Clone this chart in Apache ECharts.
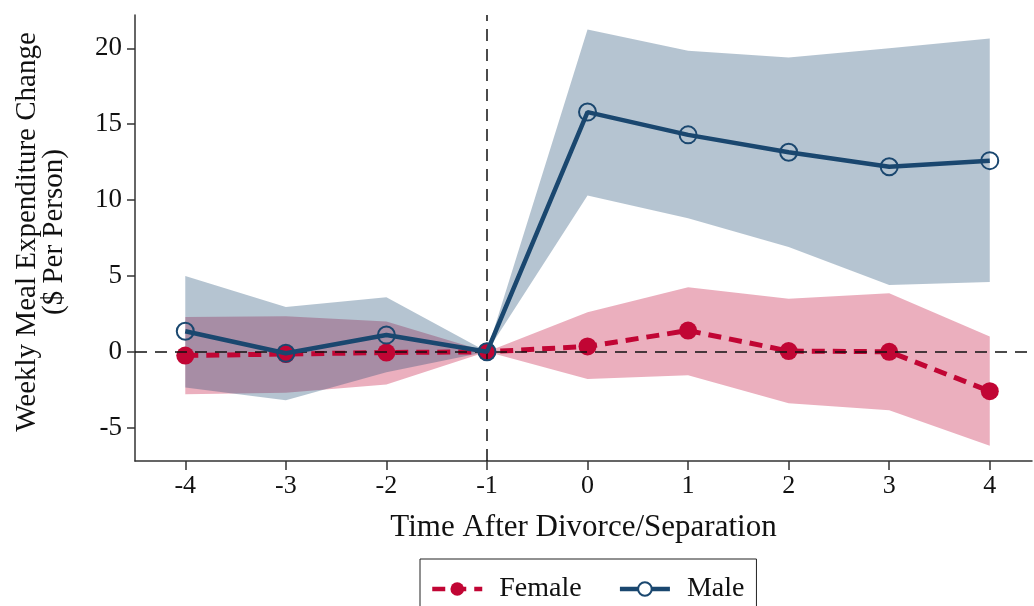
<!DOCTYPE html>
<html><head><meta charset="utf-8">
<script src="https://cdn.jsdelivr.net/npm/echarts@6/dist/echarts.min.js"></script>
<style>html,body{margin:0;padding:0;background:#fff}#c{width:1034px;height:606px}</style>
</head><body><div id="c"></div>
<script>
const periods = [-4, -3, -2, -1, 0, 1, 2, 3, 4];
const xTicks = [-4, -3, -2, -1, 0, 1, 2, 3, 4];
const yTicks = [-5, 0, 5, 10, 15, 20];
const femaleMean  = [-0.25, -0.15, -0.05, 0, 0.35, 1.4, 0.05, 0.0, -2.6];
const femaleLower = [-2.8, -2.7, -2.15, 0, -1.8, -1.55, -3.4, -3.85, -6.2];
const femaleUpper = [2.3, 2.35, 2.0, 0, 2.6, 4.25, 3.5, 3.85, 1.0];
const maleMean  = [1.35, -0.1, 1.1, 0, 15.8, 14.3, 13.15, 12.2, 12.6];
const maleLower = [-2.35, -3.2, -1.35, 0, 10.3, 8.8, 6.9, 4.4, 4.6];
const maleUpper = [5.0, 2.95, 3.6, 0, 21.25, 19.85, 19.4, 20.0, 20.65];

const FONT = 'Liberation Serif';
const NAVY = '#1a476f', RED = '#c10534';

function band(lower, upper, color, z) {
  return {
    type: 'custom', z: z, silent: true, clip: true,
    data: periods.map((x, i) => [x, lower[i], upper[i]]),
    encode: { x: 0, y: [1, 2] },
    renderItem: function (params, api) {
      if (params.dataIndex !== 0) return;
      const pts = [];
      for (let i = 0; i < periods.length; i++) pts.push(api.coord([periods[i], upper[i]]));
      for (let i = periods.length - 1; i >= 0; i--) pts.push(api.coord([periods[i], lower[i]]));
      return { type: 'polygon', shape: { points: pts }, style: { fill: color, opacity: 0.32 } };
    }
  };
}

const chart = echarts.init(document.getElementById('c'), null, { renderer: 'canvas' });
chart.setOption({
  animation: false,
  backgroundColor: '#fff',
  grid: { left: 135, right: 2, top: 15, bottom: 145, containLabel: false },
  xAxis: {
    type: 'value', min: -4.5, max: 4.42,
    axisLine: { show: true, onZero: false, lineStyle: { color: '#333', width: 1.5 } },
    axisTick: { show: true, length: 9, customValues: xTicks, lineStyle: { color: '#333', width: 1.5 } },
    axisLabel: { customValues: xTicks, color: '#111', fontFamily: FONT, fontSize: 26, margin: 12 },
    splitLine: { show: false },
    name: 'Time After Divorce/Separation', nameLocation: 'middle', nameGap: 51,
    nameTextStyle: { color: '#111', fontFamily: FONT, fontSize: 31 }
  },
  yAxis: {
    type: 'value', min: -7.2, max: 22.2,
    axisLine: { show: true, onZero: false, lineStyle: { color: '#333', width: 1.5 } },
    axisTick: { show: true, length: 8, customValues: yTicks, lineStyle: { color: '#333', width: 1.5 } },
    axisLabel: { customValues: yTicks, color: '#111', fontFamily: FONT, fontSize: 27, margin: 13 },
    splitLine: { show: false }
  },
  legend: {
    left: 420, top: 559,
    data: [
      { name: 'Female' },
      { name: 'Male', itemStyle: { color: '#fff', borderColor: NAVY, borderWidth: 2 } }
    ],
    borderColor: '#222', borderWidth: 1,
    padding: [16, 12, 20, 10],
    itemWidth: 50, itemHeight: 17, itemGap: 36,
    lineStyle: { width: 4.5 },
    textStyle: { color: '#111', fontFamily: FONT, fontSize: 28, padding: [0, 0, 0, 12] }
  },
  graphic: [{
    type: 'text', x: 41, y: 232,
    rotation: Math.PI / 2,
    style: {
      text: 'Weekly Meal Expenditure Change\n($ Per Person)',
      fill: '#111', font: '29px "Liberation Serif"', textAlign: 'center', textVerticalAlign: 'middle', lineHeight: 27
    }
  }],
  series: [
    band(femaleLower, femaleUpper, RED, 1),
    band(maleLower, maleUpper, NAVY, 2),
    {
      type: 'line', z: 3, data: [], silent: true,
      markLine: {
        silent: true, symbol: 'none', label: { show: false },
        lineStyle: { color: '#111', width: 1.5, type: [12, 8] },
        data: [{ yAxis: 0 }, { xAxis: -1 }]
      }
    },
    {
      name: 'Female', type: 'line', z: 4,
      data: periods.map((x, i) => [x, femaleMean[i]]),
      symbol: 'circle', symbolSize: 18,
      itemStyle: { color: RED },
      lineStyle: { color: RED, width: 5, type: [13, 8] }
    },
    {
      name: 'Male', type: 'line', z: 5,
      data: periods.map((x, i) => [x, maleMean[i]]),
      symbol: 'circle', symbolSize: 17,
      itemStyle: { color: 'rgba(0,0,0,0)', borderColor: NAVY, borderWidth: 2 },
      lineStyle: { color: NAVY, width: 4.5 }
    }
  ]
});
</script>
</body></html>
